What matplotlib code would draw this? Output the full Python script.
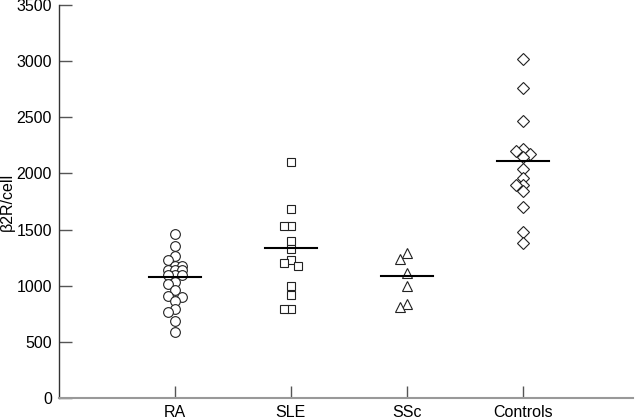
import numpy as np
import matplotlib
matplotlib.use("Agg")
import matplotlib.pyplot as plt

plt.rcParams['font.family'] = ['Liberation Sans', 'DejaVu Sans']

categories = ["RA", "SLE", "SSc", "Controls"]
ra = [1460, 1350, 1265, 1225, 1180, 1180, 1140, 1140, 1140, 1100, 1100, 1100,
      1030, 1015, 960, 910, 900, 860, 790, 765, 690, 590]
sle = [2100, 1680, 1530, 1530, 1400, 1330, 1230, 1200, 1180, 1000, 920, 790, 790]
ssc = [1290, 1240, 1110, 1000, 840, 810]
controls = [3020, 2760, 2470, 2220, 2200, 2170, 2150, 2040, 1960, 1900, 1900,
            1840, 1700, 1480, 1380]
group_lines = [1075, 1340, 1090, 2110]
yticks = [0, 500, 1000, 1500, 2000, 2500, 3000, 3500]
ylabel = "β2R/cell"

groups = [ra, sle, ssc, controls]
markers = ["o", "s", "^", "D"]
msizes = [7.0, 6.2, 7.0, 6.0]

fig = plt.figure(figsize=(6.4, 4.19), dpi=100)
ax = fig.add_axes([0.092, 0.050, 0.897, 0.938])
ax.set_xlim(0, 4.95)
ax.set_ylim(0, 3500)
fig.canvas.draw()


def swarm(xc, vals, diam_px, step_px):
    pts = []
    for v in vals:
        base = ax.transData.transform((xc, v))
        cands = [0.0, -step_px, step_px]
        best, best_d = 0.0, -1.0
        for c in cands:
            p = base + np.array([c, 0.0])
            d = min([np.hypot(*(p - q)) for q in pts] or [1e9])
            if d >= 0.8 * diam_px:
                best = c
                break
            if d > best_d:
                best, best_d = c, d
        pts.append(base + np.array([best, 0.0]))
    inv = ax.transData.inverted()
    return [inv.transform(p)[0] for p in pts]


for i, (vals, m, ms) in enumerate(zip(groups, markers, msizes)):
    xc = i + 1
    diam = ms * 100 / 72
    xs = swarm(xc, vals, diam, 7.0)
    ax.plot(xs, vals, linestyle="none", marker=m, markersize=ms,
            markerfacecolor="white", markeredgecolor="#222222",
            markeredgewidth=0.8, zorder=3)
    ax.plot([xc - 0.225, xc + 0.225], [group_lines[i]] * 2, color="black",
            linewidth=1.5, zorder=4)

ax.set_xticks(range(1, len(categories) + 1))
ax.set_xticklabels(categories)
ax.set_yticks(yticks)
ax.set_yticklabels([str(t) for t in yticks])
ax.set_ylabel(ylabel, fontsize=11.5, labelpad=1)

ax.tick_params(axis="both", direction="in", length=9, width=1.0,
               color="#555555", labelsize=11.5, pad=5)
for s in ["top", "right"]:
    ax.spines[s].set_visible(False)
ax.spines["left"].set_color("#333333")
ax.spines["bottom"].set_color("#999999")
ax.spines["left"].set_linewidth(1.0)
ax.spines["bottom"].set_linewidth(1.5)

fig.savefig("out.png", dpi=100)
